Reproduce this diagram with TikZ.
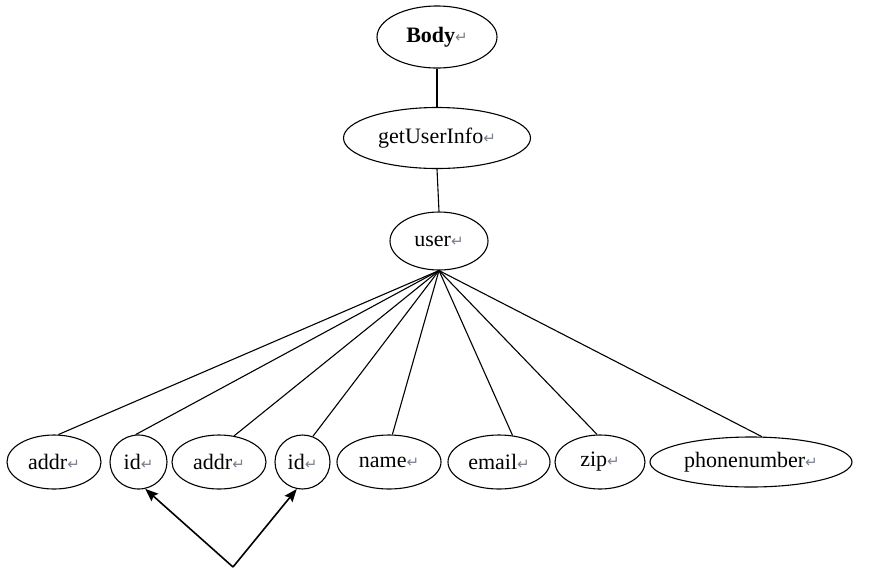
\documentclass[tikz,border=0pt]{standalone}
\usepackage{fontspec}
\setmainfont{Liberation Serif}
\newfontfamily\djv{DejaVu Sans}
\usetikzlibrary{shapes.geometric,arrows.meta}
\definecolor{pm}{RGB}{120,128,140}
\newcommand{\pmark}{{\djv\fontsize{7.5}{7.5}\selectfont\textcolor{pm}{↵}}}
\begin{document}
\begin{tikzpicture}[x=0.5pt,y=-0.5pt,
  oval/.style={draw, ellipse, line width=0.55pt, inner sep=0pt, font=\fontsize{11}{13}\selectfont},
  link/.style={line width=0.55pt},
  ptr/.style={line width=0.8pt, -{Stealth[length=6.5pt,width=5pt,inset=1pt]}}]
\useasboundingbox (0,0) rectangle (879,569);
\node[oval, minimum width=60pt, minimum height=31pt] (body) at (437,37) {\textbf{Body}\pmark};
\node[oval, minimum width=93.5pt, minimum height=30.5pt] (gui) at (437,138) {getUserInfo\pmark};
\node[oval, minimum width=49pt, minimum height=29pt] (user) at (439,241) {user\pmark};
\node[oval, minimum width=47pt, minimum height=27pt] (addr1) at (54,462) {addr\pmark};
\node[oval, minimum width=28.5pt, minimum height=27pt] (id1) at (138.5,462) {id\pmark};
\node[oval, minimum width=47pt, minimum height=27pt] (addr2) at (219,462) {addr\pmark};
\node[oval, minimum width=27.5pt, minimum height=27pt] (id2) at (302.5,462) {id\pmark};
\node[oval, minimum width=52pt, minimum height=27pt] (name) at (389,462) {name\pmark};
\node[oval, minimum width=51pt, minimum height=27pt] (email) at (499,462) {email\pmark};
\node[oval, minimum width=45pt, minimum height=27pt] (zip) at (600,462) {zip\pmark};
\node[oval, minimum width=101pt, minimum height=25pt] (phone) at (751,462) {phonenumber\pmark};
\coordinate (apex) at (233,567);
\draw[link] (body.south) -- (gui.north);
\draw[link] (gui.south) -- (user.north);
\draw[link] (user.south) -- (addr1.81);
\draw[link] (user.south) -- (id1.96);
\draw[link] (user.south) -- (addr2.60);
\draw[link] (user.south) -- (id2.68);
\draw[link] (user.south) -- (name.83);
\draw[link] (user.south) -- (email.63);
\draw[link] (user.south) -- (zip.96);
\draw[link] (user.south) -- (phone.67);
\draw[ptr] (apex) -- (id1.-76);
\draw[ptr] (apex) -- (id2.-102);
\end{tikzpicture}
\end{document}
